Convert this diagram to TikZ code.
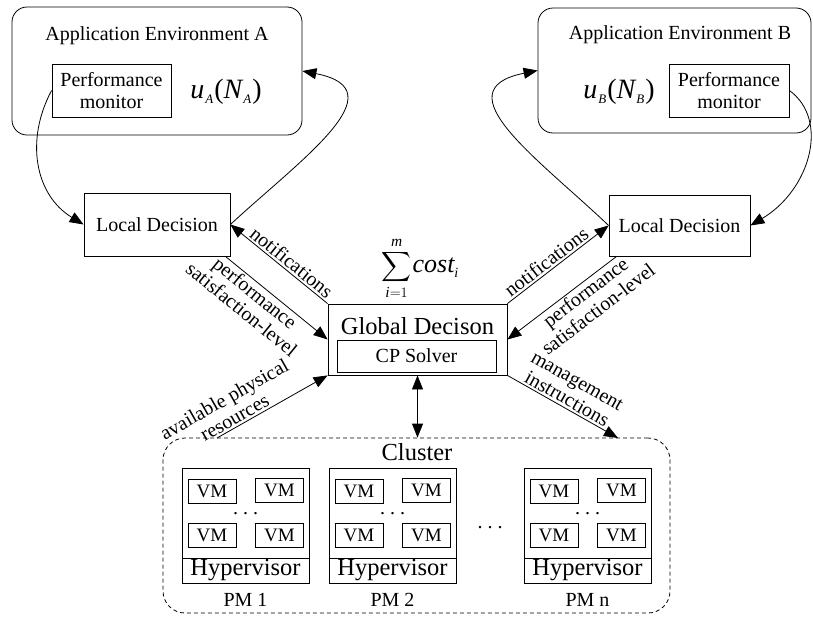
\documentclass[tikz,border=0pt]{standalone}
\usepackage{fontspec}
\setmainfont{Liberation Serif}
\usepackage{amsmath}
\usetikzlibrary{arrows.meta,calc}
\newcommand{\subsA}[1]{\raisebox{-4.5pt}{\fontsize{13}{13}\selectfont\itshape #1}}
\begin{document}
\begin{tikzpicture}[x=1pt,y=-1pt,
  box/.style={draw,line width=0.8pt,inner sep=0pt,align=center},
  txt/.style={font=\fontsize{20}{24}\selectfont},
  big/.style={font=\fontsize{24.5}{26}\selectfont},
  arr/.style={line width=0.8pt,-{Triangle[length=14pt,width=11pt]}},
  darr/.style={line width=0.8pt,{Triangle[length=14pt,width=11pt]}-{Triangle[length=14pt,width=11pt]}},
  lbl/.style={font=\fontsize{20}{21}\selectfont,inner sep=2pt,align=center},
  vmbox/.style={box,minimum width=48pt,minimum height=24pt,font=\fontsize{19}{19}\selectfont},
  pmbox/.style={box,minimum width=127pt,minimum height=115pt},
  hyp/.style={box,minimum width=127pt,minimum height=25pt,font=\fontsize{24.5}{24.5}\selectfont},
]
\useasboundingbox (0,0) rectangle (813,616);

% Application environments
\node[box,rounded corners=15pt,minimum width=290pt,minimum height=128pt] (aea) at (157,71) {};
\node[txt] (aeat) at (157,36) {Application Environment A};
\node[box,txt,minimum width=119pt,minimum height=53pt] (pma) at (111.5,90.5) {Performance\\[-2pt]monitor};
\node[font=\fontsize{28}{28}\selectfont] (ua) at (226,92) {\itshape u\kern1pt\subsA{A}\kern1pt\upshape(\itshape N\kern1pt\subsA{A}\kern1pt\upshape)};

\node[box,rounded corners=15pt,minimum width=273pt,minimum height=125pt] (aeb) at (674.5,70.5) {};
\node[txt] (aebt) at (680,35) {Application Environment B};
\node[box,txt,minimum width=120pt,minimum height=53pt] (pmb) at (729,90.5) {Performance\\[-2pt]monitor};
\node[font=\fontsize{28}{28}\selectfont] (ub) at (619,92) {\itshape u\kern1pt\subsA{B}\kern1pt\upshape(\itshape N\kern1pt\subsA{B}\kern1pt\upshape)};

% Local decisions
\node[box,txt,minimum width=146pt,minimum height=63pt] (lda) at (157,224.5) {Local Decision};
\node[box,txt,minimum width=141pt,minimum height=61pt] (ldb) at (679.5,225.5) {Local Decision};

% Global decision
\node[box,minimum width=179pt,minimum height=71pt] (gd) at (417.5,339.5) {};
\node[big] (gdt) at (417.5,326) {Global Decison};
\node[box,txt,minimum width=159pt,minimum height=32pt] (cps) at (416.5,356) {CP Solver};
\node[font=\fontsize{22}{22}\selectfont,inner sep=0pt] (sum) at (420,268)
  {$\displaystyle\sum_{\text{\itshape i}=1}^{\text{\itshape m}}$\kern1pt\fontsize{26}{26}\selectfont\itshape cost\raisebox{-5pt}{\fontsize{14}{14}\selectfont i}};

% Cluster
\node[draw,dashed,dash pattern=on 4pt off 3pt,line width=0.8pt,rounded corners=22pt,minimum width=507pt,minimum height=175pt,inner sep=0pt] (cluster) at (416.5,525.5) {};
\node[big] (clt) at (417,452) {Cluster};

\foreach \L/\n/\lab in {182/1/PM 1,329/2/PM 2,524/n/PM n}{
  \node[pmbox] (pm\n) at (\L+63.5,525.5) {};
  \node[hyp] (hy\n) at (\L+63.5,570.5) {Hypervisor};
  \node[vmbox] (vma\n) at (\L+30,491.5) {VM};
  \node[vmbox] (vmb\n) at (\L+97.5,490.5) {VM};
  \node[vmbox] (vmc\n) at (\L+30,535) {VM};
  \node[vmbox] (vmd\n) at (\L+97.5,535) {VM};
  \node[txt,inner sep=0pt] (dt\n) at (\L+63.5,514) {.\hspace{5pt}.\hspace{5pt}.};
  \node[txt] (pl\n) at (\L+63.5,600) {\lab};
}
\node[txt,inner sep=0pt] (mdots) at (490,528) {.\hspace{5pt}.\hspace{5pt}.};

\coordinate (clin) at (217,438);
\coordinate (clout) at (618,438);

% Curved feedback arrows
\draw[arr] (pma.west) .. controls (25,140) and (35,195) .. (lda.west);
\draw[arr] (lda.east) .. controls (300,160) and (400,90) .. (aea.east);
\draw[arr] (ldb.west) .. controls (540,160) and (440,90) .. (aeb.west);
\draw[arr] (pmb.east) .. controls (830,120) and (810,190) .. (ldb.east);

% Straight arrows
\draw[arr] (gd.north west) -- node[lbl,sloped,above,pos=0.43]{notifications} (lda.east);
\draw[arr] ([xshift=-5pt]lda.south east) -- node[lbl,sloped,below,pos=0.35]{performance\\satisfaction-level} (gd.west);
\draw[arr] (gd.north east) -- node[lbl,sloped,above,pos=0.44]{notifications} (ldb.west);
\draw[arr] ([xshift=8pt]ldb.south west) -- node[lbl,sloped,below,pos=0.34]{performance\\satisfaction-level} (gd.east);
\draw[arr] (clin) -- node[lbl,sloped,above,pos=0.2]{available physical\\resources} (gd.south west);
\draw[arr] (gd.south east) -- node[lbl,sloped,above,pos=0.5]{management\\instructions} (clout);
\draw[darr] (gd.south) -- (gd.south |- cluster.north);
\end{tikzpicture}
\end{document}
